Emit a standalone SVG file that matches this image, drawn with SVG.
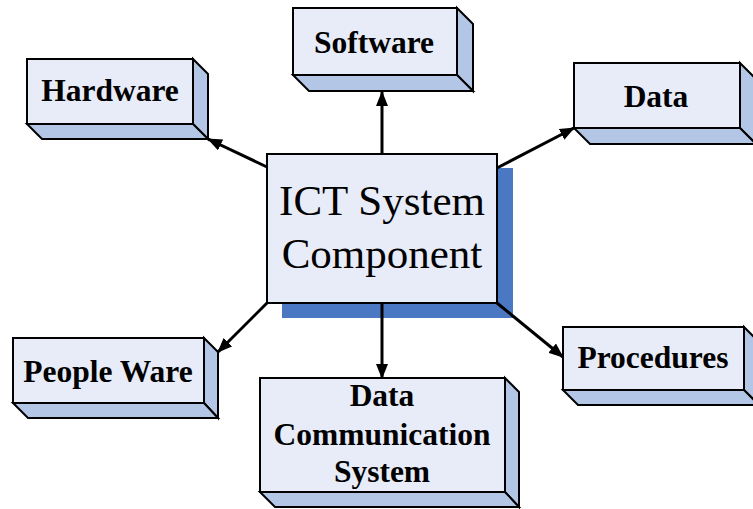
<svg xmlns="http://www.w3.org/2000/svg" width="753" height="509" viewBox="0 0 753 509">
  <style>
    .front { fill: #e7ecf8; stroke: #000; stroke-width: 2; stroke-linejoin: miter; }
    .side { fill: #b3c6e6; stroke: #000; stroke-width: 2; stroke-linejoin: miter; }
    .lbl { font-family: "Liberation Serif", "Times New Roman", serif; font-weight: bold; font-size: 31.5px; fill: #000; text-anchor: middle; }
    .title { font-family: "Liberation Serif", "Times New Roman", serif; font-size: 43px; fill: #000; text-anchor: middle; }
    .conn { stroke: #000; stroke-width: 3; fill: none; marker-end: url(#arrow); }
  </style>
  <defs>
    <marker id="arrow" markerUnits="userSpaceOnUse" markerWidth="15" markerHeight="12" refX="14" refY="6" orient="auto">
      <path d="M0,0 L15,6 L0,12 z" fill="#000"/>
    </marker>
  </defs>

  <rect width="753" height="509" fill="#fff"/>

  <!-- centre node with flat shadow -->
  <g id="ict-system">
    <rect x="282" y="168" width="231" height="150" fill="#4a78c2"/>
    <rect class="front" x="267" y="154" width="230" height="149"/>
    <text class="title" x="382" y="215">ICT System</text>
    <text class="title" x="382" y="268">Component</text>
  </g>

  <!-- bevelled boxes: front face, right face, bottom face -->
  <g id="hardware">
    <polygon class="side" points="193,59 208,74 208,139 193,124"/>
    <polygon class="side" points="27,124 193,124 208,139 42,139"/>
    <rect class="front" x="27" y="59" width="166" height="65"/>
    <text class="lbl" x="110" y="101">Hardware</text>
  </g>

  <g id="software">
    <polygon class="side" points="457,8 473,24 473,91 457,75"/>
    <polygon class="side" points="293,75 457,75 473,91 309,91"/>
    <rect class="front" x="293" y="8" width="164" height="67"/>
    <text class="lbl" x="374" y="53">Software</text>
  </g>

  <g id="data">
    <polygon class="side" points="740,63 756,79 756,144 740,128"/>
    <polygon class="side" points="574,128 740,128 756,144 590,144"/>
    <rect class="front" x="574" y="63" width="166" height="65"/>
    <text class="lbl" x="656" y="107">Data</text>
  </g>

  <g id="people-ware">
    <polygon class="side" points="204,338 218,352 218,418 204,403"/>
    <polygon class="side" points="13,403 204,403 218,418 28,418"/>
    <rect class="front" x="13" y="338" width="191" height="65"/>
    <text class="lbl" x="108" y="382">People Ware</text>
  </g>

  <g id="data-communication-system">
    <polygon class="side" points="505,378 519,392 519,507 505,492"/>
    <polygon class="side" points="260,492 505,492 519,507 275,507"/>
    <rect class="front" x="260" y="378" width="245" height="114"/>
    <text class="lbl" x="382" y="406">Data</text>
    <text class="lbl" x="382" y="445">Communication</text>
    <text class="lbl" x="382" y="482">System</text>
  </g>

  <g id="procedures">
    <polygon class="side" points="744,327 759,342 759,405 744,390"/>
    <polygon class="side" points="563,390 744,390 759,405 578,405"/>
    <rect class="front" x="563" y="327" width="181" height="63"/>
    <text class="lbl" x="653" y="368">Procedures</text>
  </g>

  <!-- connectors from the centre node -->
  <g id="connectors">
    <line class="conn" x1="382" y1="154" x2="382" y2="92"/>
    <line class="conn" x1="267" y1="167" x2="208" y2="139"/>
    <line class="conn" x1="497" y1="168" x2="574" y2="128"/>
    <line class="conn" x1="267" y1="303" x2="218" y2="352"/>
    <line class="conn" x1="382" y1="303" x2="382" y2="378"/>
    <line class="conn" x1="497" y1="303" x2="563" y2="357"/>
  </g>
</svg>
